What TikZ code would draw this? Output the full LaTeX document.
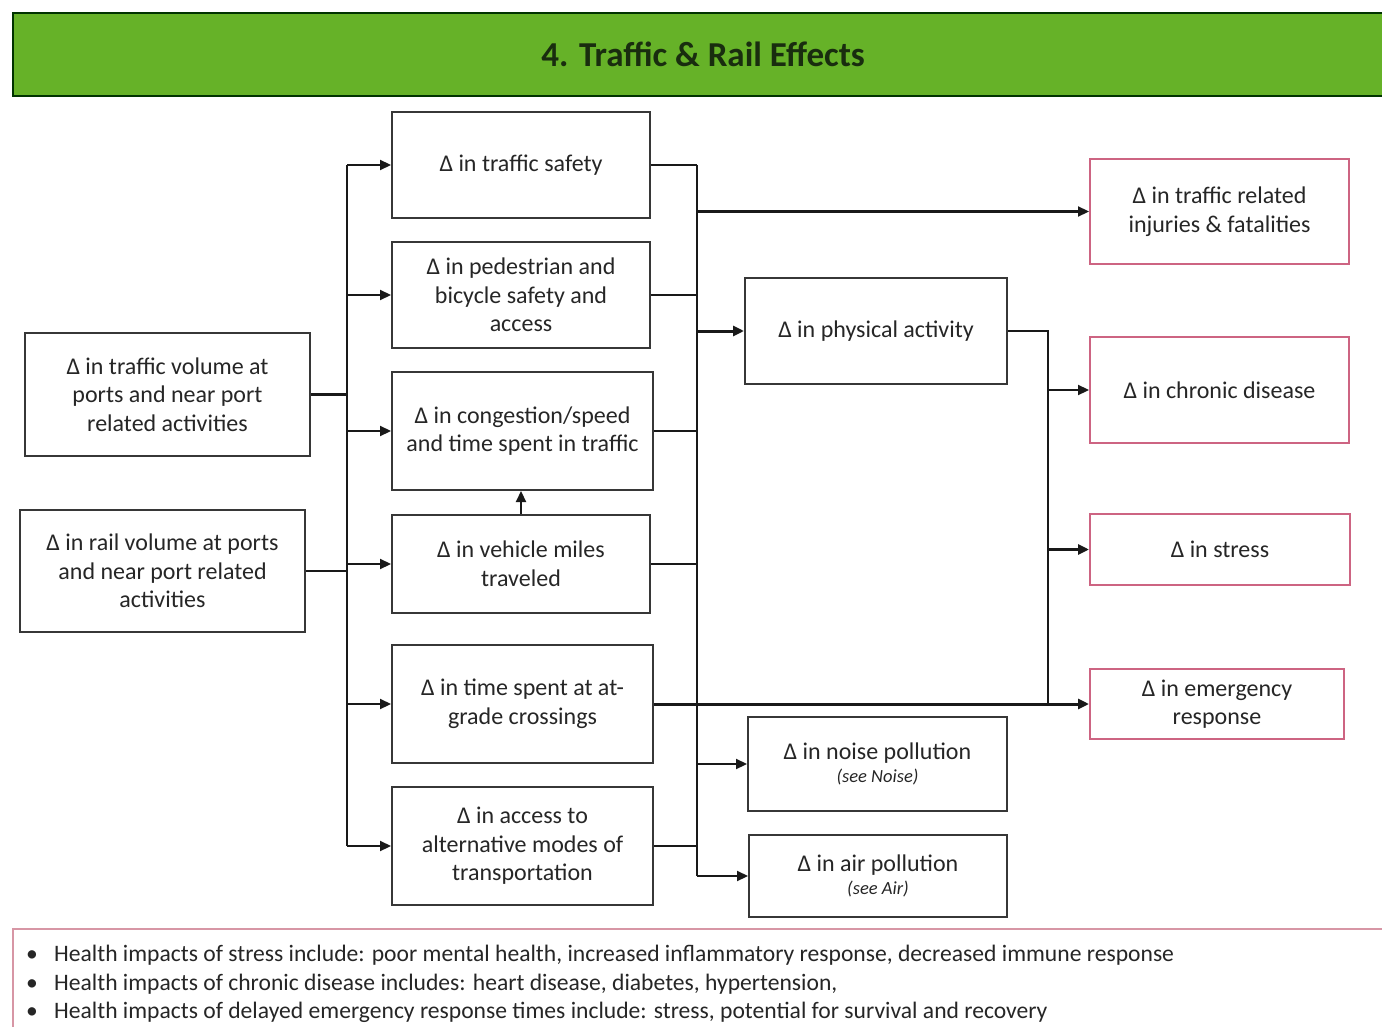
\documentclass[tikz,border=0pt]{standalone}
\usepackage{fontspec}
\setmainfont{Carlito}
\usetikzlibrary{arrows.meta}
\definecolor{titlegreen}{RGB}{102,178,40}
\definecolor{titletext}{RGB}{25,45,15}
\definecolor{pinkline}{RGB}{205,100,130}
\definecolor{noteline}{RGB}{215,150,165}
\definecolor{boxline}{RGB}{55,55,55}
\newcommand{\seenote}[1]{{\fontsize{18.5}{20}\selectfont\itshape #1}}
\begin{document}
\begin{tikzpicture}[x=1pt,y=-1pt,
  box/.style={draw=boxline, line width=2pt, align=center, inner sep=0pt, text=black!85,
    font=\fontsize{24}{28.5}\selectfont},
  hbox/.style={box, draw=pinkline},
  conn/.style={line width=2.2pt, draw=black!90},
  arr/.style={conn, -{Triangle[length=11pt,width=10pt]}}
]
\useasboundingbox (0,0) rectangle (1382,1027);
\fill[white] (0,0) rectangle (1382,1027);

% title bar
\node[draw=black!80!green, line width=2.2pt, fill=titlegreen, minimum width=1380pt, minimum height=83pt,
  anchor=north west, inner sep=0pt, text=titletext, font=\fontsize{35}{38}\selectfont\bfseries] (title) at (12,12)
  {4. Traffic \& Rail Effects};

% left boxes
\node[box, minimum width=285pt, minimum height=123pt] (tv) at (167.5,394.5)
  {Δ in traffic volume at\\ports and near port\\related activities};
\node[box, minimum width=285pt, minimum height=122pt] (rail) at (162.5,571)
  {Δ in rail volume at ports\\and near port related\\activities};

% middle column
\node[box, minimum width=258pt, minimum height=106pt] (ts) at (521,165) {Δ in traffic safety};
\node[box, minimum width=258pt, minimum height=106pt] (ped) at (521,295)
  {Δ in pedestrian and\\bicycle safety and\\access};
\node[box, minimum width=261pt, minimum height=118pt] (cong) at (522.5,431)
  {Δ in congestion/speed\\and time spent in traffic};
\node[box, minimum width=258pt, minimum height=98pt] (vmt) at (521,564)
  {Δ in vehicle miles\\traveled};
\node[box, minimum width=261pt, minimum height=118pt] (grade) at (522.5,704)
  {Δ in time spent at at-\\grade crossings};
\node[box, minimum width=261pt, minimum height=118pt] (acc) at (522.5,846)
  {Δ in access to\\alternative modes of\\transportation};

% intermediate column
\node[box, minimum width=262pt, minimum height=106pt] (phys) at (876,331) {Δ in physical activity};
\node[box, minimum width=259pt, minimum height=94pt] (noise) at (877.5,764)
  {Δ in noise pollution\\[-5pt]\seenote{(see Noise)}};
\node[box, minimum width=258pt, minimum height=82pt] (air) at (878,876)
  {Δ in air pollution\\[-5pt]\seenote{(see Air)}};

% health outcome boxes
\node[hbox, minimum width=259pt, minimum height=105pt] (inj) at (1219.5,211.5)
  {Δ in traffic related\\injuries \& fatalities};
\node[hbox, minimum width=259pt, minimum height=106pt] (chr) at (1219.5,390) {Δ in chronic disease};
\node[hbox, minimum width=260pt, minimum height=71pt] (str) at (1220,549.5) {Δ in stress};
\node[hbox, minimum width=254pt, minimum height=70pt] (emer) at (1217,704)
  {Δ in emergency\\response};

% notes box
\node[draw=noteline, line width=2pt, minimum width=1380pt, minimum height=110pt, anchor=north west,
  inner sep=0pt] (notes) at (12,928) {};
\node[anchor=north west, align=left, inner sep=0pt, text=black!85,
  font=\fontsize{23.6}{28.5}\selectfont] (notetext) at (26,945)
  {\makebox[28pt][l]{•}Health impacts of stress include: poor mental health, increased inflammatory response, decreased immune response\\
   \makebox[28pt][l]{•}Health impacts of chronic disease includes: heart disease, diabetes, hypertension,\\
   \makebox[28pt][l]{•}Health impacts of delayed emergency response times include: stress, potential for survival and recovery};

% buses
\coordinate (busL) at (347,0);
\coordinate (busR) at (697,0);
\coordinate (busP) at (1048,0);

\draw[conn, line width=2.8pt] (tv.east) -- (tv.east -| busL);
\draw[conn, line width=2.8pt] (rail.east) -- (rail.east -| busL);
\draw[conn] (ts.west -| busL) -- (acc.west -| busL);
\foreach \n in {ts,ped,cong,vmt,grade,acc} \draw[arr] (\n.west -| busL) -- (\n.west);
\draw[arr] (vmt.north) -- (vmt.north |- cong.south);

\foreach \n in {ts,ped,cong,vmt,acc} \draw[conn] (\n.east) -- (\n.east -| busR);
\draw[conn] (ts.east -| busR) -- (air.west -| busR);
\foreach \n in {inj,noise,air} \draw[arr] (\n.west -| busR) -- (\n.west);
\draw[arr, line width=3pt] (phys.west -| busR) -- (phys.west);
\draw[arr, line width=3pt] (grade.east) -- (grade.east -| emer.west);

\draw[conn, line width=2.6pt] (phys.east) -- (phys.east -| busP) -- (grade.east -| busP);
\draw[arr] (chr.west -| busP) -- (chr.west);
\draw[arr, line width=3pt] (str.west -| busP) -- (str.west);
\end{tikzpicture}
\end{document}
